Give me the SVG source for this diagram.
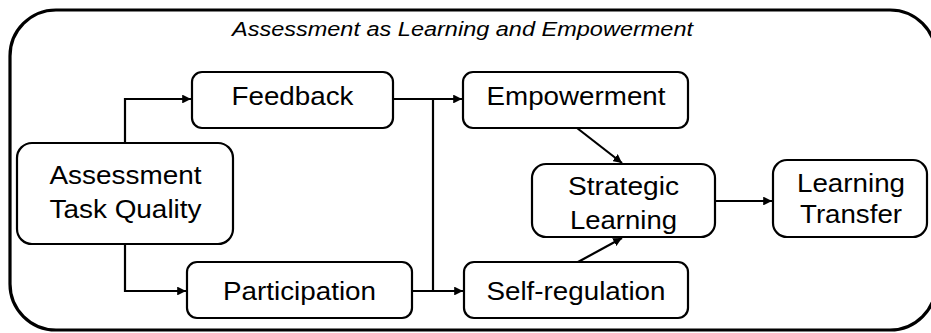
<svg xmlns="http://www.w3.org/2000/svg" width="931" height="333" viewBox="0 0 931 333">
<defs>
<marker id="arr" viewBox="0 0 10 10" refX="10" refY="5" markerWidth="4" markerHeight="4" orient="auto" markerUnits="strokeWidth">
<path d="M0,0 L10,5 L0,10 z" fill="#000"/>
</marker>
<style>
.box{fill:#fff;stroke:#000;stroke-width:2.2}
.lbl{font-family:"Liberation Sans",Arial,sans-serif;font-size:26px;fill:#000;text-anchor:middle}
.title{font-family:"Liberation Sans",Arial,sans-serif;font-size:20px;font-style:italic;fill:#000;text-anchor:middle}
.con{fill:none;stroke:#000;stroke-width:2.2}
</style>
</defs>
<rect width="931" height="333" fill="#fff"/>
<g id="frame">
<rect x="10" y="10" width="926" height="320" rx="46" ry="46" fill="none" stroke="#000" stroke-width="3.2"/>
<text class="title" x="462.5" y="36" textLength="461" lengthAdjust="spacingAndGlyphs">Assessment as Learning and Empowerment</text>
</g>
<g id="connectors">
<polyline class="con" points="125,143 125,99 191,99" marker-end="url(#arr)"/>
<polyline class="con" points="125,244 125,291 186,291" marker-end="url(#arr)"/>
<line class="con" x1="393" y1="99" x2="462" y2="99" marker-end="url(#arr)"/>
<line class="con" x1="412" y1="291" x2="463" y2="291" marker-end="url(#arr)"/>
<line class="con" x1="433" y1="99" x2="433" y2="291"/>
<line class="con" x1="577" y1="128" x2="622" y2="163" marker-end="url(#arr)"/>
<line class="con" x1="578" y1="262" x2="622" y2="238" marker-end="url(#arr)"/>
<line class="con" x1="715" y1="201" x2="772" y2="201" marker-end="url(#arr)"/>
</g>
<g id="atq">
<rect class="box" x="17" y="143" width="216" height="101" rx="15"/>
<text class="lbl" x="125.5" y="184" textLength="152" lengthAdjust="spacingAndGlyphs">Assessment</text>
<text class="lbl" x="125.5" y="218" textLength="152" lengthAdjust="spacingAndGlyphs">Task Quality</text>
</g>
<g id="feedback">
<rect class="box" x="192" y="72" width="201" height="56" rx="10"/>
<text class="lbl" x="292.5" y="105" textLength="122" lengthAdjust="spacingAndGlyphs">Feedback</text>
</g>
<g id="participation">
<rect class="box" x="187" y="262" width="225" height="56" rx="10"/>
<text class="lbl" x="299.5" y="300" textLength="153" lengthAdjust="spacingAndGlyphs">Participation</text>
</g>
<g id="empowerment">
<rect class="box" x="463" y="72" width="225" height="56" rx="10"/>
<text class="lbl" x="576" y="105" textLength="179" lengthAdjust="spacingAndGlyphs">Empowerment</text>
</g>
<g id="selfregulation">
<rect class="box" x="464" y="262" width="224" height="56" rx="10"/>
<text class="lbl" x="576" y="300" textLength="179" lengthAdjust="spacingAndGlyphs">Self-regulation</text>
</g>
<g id="strategic">
<rect class="box" x="532" y="164" width="183" height="73" rx="14"/>
<text class="lbl" x="623.5" y="195" textLength="111" lengthAdjust="spacingAndGlyphs">Strategic</text>
<text class="lbl" x="623.5" y="229" textLength="107" lengthAdjust="spacingAndGlyphs">Learning</text>
</g>
<g id="transfer">
<rect class="box" x="773" y="160" width="154" height="77" rx="14"/>
<text class="lbl" x="851" y="192" textLength="108" lengthAdjust="spacingAndGlyphs">Learning</text>
<text class="lbl" x="851" y="223" textLength="102" lengthAdjust="spacingAndGlyphs">Transfer</text>
</g>
</svg>
